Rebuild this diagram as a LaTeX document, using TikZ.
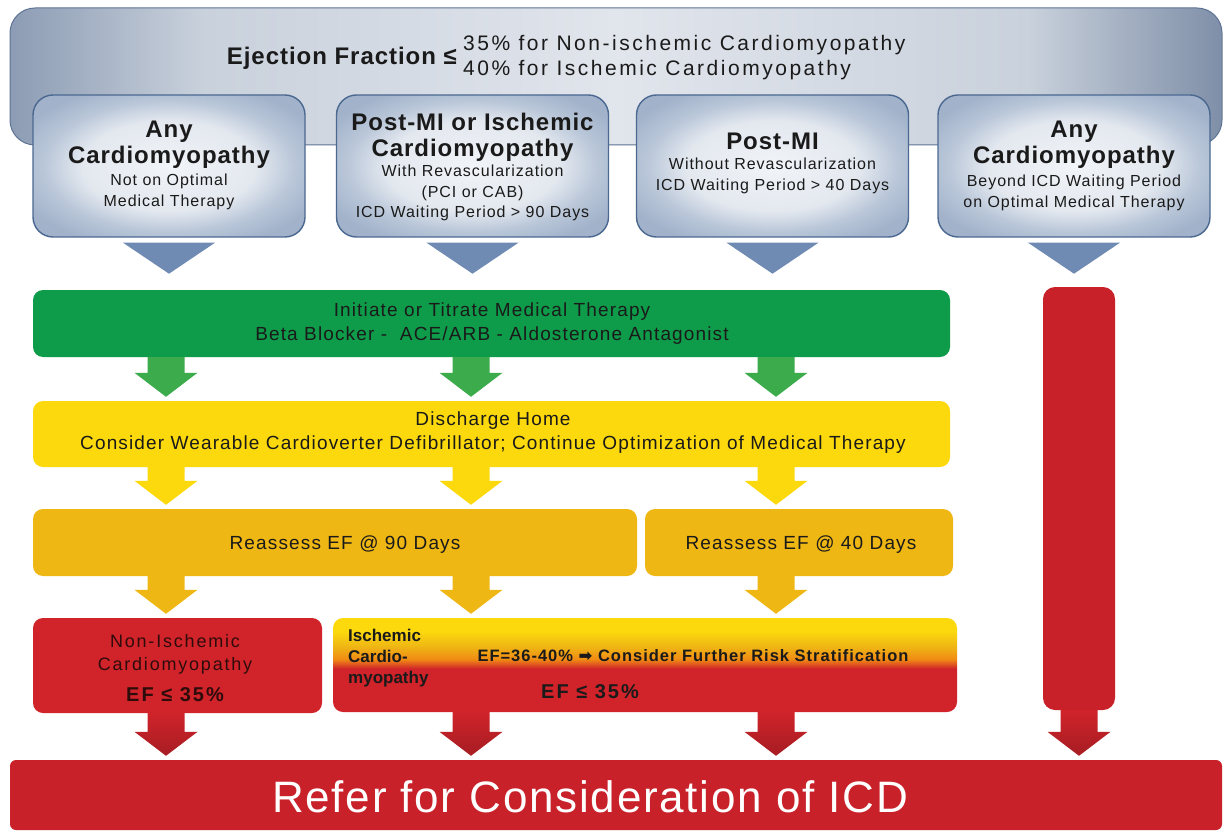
\documentclass[tikz,border=0pt]{standalone}
\usepackage{fontspec}
\setmainfont{Liberation Sans}
\newfontfamily\lsA[LetterSpace=4]{Liberation Sans}
\newfontfamily\lsB[LetterSpace=6]{Liberation Sans}
\newfontfamily\lsC[LetterSpace=10]{Liberation Sans}
\newfontfamily\lsD[LetterSpace=12]{Liberation Sans}
\newfontfamily\djv{DejaVu Sans}
\usetikzlibrary{calc}

\definecolor{bnL}{HTML}{8C9CB4}
\definecolor{bnM}{HTML}{C9D1DC}
\definecolor{bnC}{HTML}{E1E5EC}
\definecolor{bnR}{HTML}{7F8FA8}
\definecolor{bnB}{HTML}{5E7393}
\definecolor{bxA}{HTML}{F1F4F8}
\definecolor{bxB}{HTML}{E3E8EF}
\definecolor{bxC}{HTML}{BAC7D9}
\definecolor{bxD}{HTML}{A1B2CA}
\definecolor{bxE}{HTML}{4B6890}
\definecolor{triC}{HTML}{6F8BB3}
\definecolor{grn}{HTML}{0F9C4A}
\definecolor{grnA}{HTML}{3CAB4B}
\definecolor{ylw}{HTML}{FCD90D}
\definecolor{org}{HTML}{EFB714}
\definecolor{orgM}{HTML}{F08A14}
\definecolor{rd}{HTML}{D0232A}
\definecolor{rdD}{HTML}{A61D23}
\definecolor{rdB}{HTML}{C9212A}
\definecolor{txt}{HTML}{1A1A1A}
\definecolor{rtxt}{HTML}{2E0C0C}

\pgfdeclarehorizontalshading{bannershade}{100bp}{color(0bp)=(bnL); color(25bp)=(bnL); color(33bp)=(bnM); color(50bp)=(bnC); color(67bp)=(bnM); color(75bp)=(bnR); color(100bp)=(bnR)}
\pgfdeclareradialshading{boxshade}{\pgfpoint{0bp}{0bp}}{color(0bp)=(bxA); color(16bp)=(bxB); color(23bp)=(bxC); color(30bp)=(bxD); color(50bp)=(bxD)}
\pgfdeclareverticalshading{ischshade}{100bp}{color(0bp)=(rd); color(48bp)=(rd); color(53bp)=(orgM); color(60bp)=(org); color(68bp)=(ylw); color(100bp)=(ylw)}

\tikzset{
 banner/.style={rectangle, rounded corners=25, draw=bnB, line width=1, shade, shading=bannershade, inner sep=0},
 catbox/.style={rectangle, rounded corners=20, draw=bxE, line width=1.4, shade, shading=boxshade, minimum width=272, minimum height=142, inner sep=0},
 bar/.style={rectangle, rounded corners=10, inner sep=0},
 hd/.style={align=center, text=txt, font=\lsA\bfseries\fontsize{24}{26}\selectfont, inner sep=0},
 sub/.style={align=center, text=txt, font=\lsB\fontsize{16}{20.5}\selectfont, inner sep=0},
 bartxt/.style={align=center, text=txt, font=\lsB\fontsize{19}{24}\selectfont, inner sep=0},
 tri/.style={fill=triC},
 redarr/.style={top color=rd, bottom color=rdD},
}

\newcommand\blkarrow[4]{%
  \path[#4] ($(#2.south -| #1)+(-18.5,0)$) -- ($(#2.south -| #1)+(18.5,0)$)
   -- ($(#3.north -| #1)+(18.5,-28)$) -- ($(#3.north -| #1)+(31.5,-28)$)
   -- ($(#3.north -| #1)+(0,-4)$) -- ($(#3.north -| #1)+(-31.5,-28)$)
   -- ($(#3.north -| #1)+(-18.5,-28)$) -- cycle;}
\newcommand\tridown[1]{%
  \fill[tri] ($(#1.south)+(-46,5)$) -- ($(#1.south)+(46,5)$) -- ($(#1.south)+(0,36)$) -- cycle;}

\begin{document}
\begin{tikzpicture}[x=1pt,y=-1pt]
\useasboundingbox (0,0) rectangle (1225,834);
\fill[white] (0,0) rectangle (1225,834);

% banner
\node[banner, minimum width=1212, minimum height=137] (banner) at (616,76.5) {};
\node[anchor=east, font=\lsA\bfseries\fontsize{24}{26}\selectfont, text=txt, inner sep=0] (eft) at (457,58) {Ejection Fraction ≤};
\node[anchor=west, align=left, font=\lsD\fontsize{21}{25}\selectfont, text=txt, inner sep=0] (efv) at (463,58) {35\% for Non-ischemic Cardiomyopathy\\40\% for Ischemic Cardiomyopathy};

% category boxes
\node[catbox] (b1) at (169,166) {};
\node[catbox] (b2) at (472.5,166) {};
\node[catbox] (b3) at (772.5,166) {};
\node[catbox] (b4) at (1074,166) {};
\node[hd] (h1) at (169,145) {Any\\Cardiomyopathy};
\node[sub] (s1) at (169,192) {Not on Optimal\\Medical Therapy};
\node[hd] (h2) at (472.5,137) {Post-MI or Ischemic\\Cardiomyopathy};
\node[sub] (s2) at (472.5,193) {With Revascularization\\(PCI or CAB)\\ICD Waiting Period > 90 Days};
\node[hd] (h3) at (772.5,141) {Post-MI};
\node[sub] (s3) at (772.5,176) {Without Revascularization\\ICD Waiting Period > 40 Days};
\node[hd] (h4) at (1074,145) {Any\\Cardiomyopathy};
\node[sub] (s4) at (1074,193) {Beyond ICD Waiting Period\\on Optimal Medical Therapy};
\tridown{b1}
\tridown{b2}
\tridown{b3}
\tridown{b4}

% bars
\node[bar, fill=grn, minimum width=917, minimum height=67] (gbar) at (491.5,323.5) {};
\node[bartxt] (gtxt) at (492,323.5) {Initiate or Titrate Medical Therapy\\Beta Blocker -\ \ ACE/ARB - Aldosterone Antagonist};
\node[bar, fill=ylw, minimum width=917, minimum height=66] (ybar) at (491.5,434) {};
\node[bartxt] (ytxt) at (493,432.5) {Discharge Home\\Consider Wearable Cardioverter Defibrillator; Continue Optimization of Medical Therapy};
\node[bar, fill=org, minimum width=604, minimum height=67] (o1) at (335,542.5) {};
\node[bartxt] (o1t) at (345,545) {Reassess EF @ 90 Days};
\node[bar, fill=org, minimum width=308, minimum height=67] (o2) at (799,542.5) {};
\node[bartxt] (o2t) at (801,545) {Reassess EF @ 40 Days};

% red boxes
\node[bar, fill=rd, minimum width=289, minimum height=95] (nonisch) at (177.5,665.5) {};
\node[align=center, text=rtxt, font=\lsC\fontsize{18}{23}\selectfont, inner sep=0] (nit) at (175,654) {Non-Ischemic\\Cardiomyopathy};
\node[text=rtxt, font=\lsC\bfseries\fontsize{20}{24}\selectfont, inner sep=0] (nief) at (175,695) {EF ≤ 35\%};
\node[bar, shade, shading=ischshade, minimum width=624, minimum height=94] (isch) at (645,665) {};
\node[anchor=west, align=left, text=txt, font=\bfseries\fontsize{17}{21}\selectfont, inner sep=0] (isl) at (348,658) {Ischemic\\Cardio-\\myopathy};
\node[text=txt, font=\lsB\bfseries\fontsize{16.5}{20}\selectfont, inner sep=0] (isr) at (693,656) {EF=36-40\% {\djv ➡} Consider Further Risk Stratification};
\node[text=txt, font=\lsC\bfseries\fontsize{20}{24}\selectfont, inner sep=0] (isef) at (590,692) {EF ≤ 35\%};

% right bar and bottom bar
\node[bar, rounded corners=12, fill=rdB, minimum width=72, minimum height=423] (rbar) at (1079,498.5) {};
\node[bar, rounded corners=6, fill=rdB, minimum width=1212, minimum height=70] (refer) at (616,795) {};
\node[text=white, font=\lsA\fontsize{44}{48}\selectfont, inner sep=0] (refert) at (590,797) {Refer for Consideration of ICD};

% arrow columns
\coordinate (c1) at (166,0);
\coordinate (c2) at (471,0);
\coordinate (c3) at (776,0);
\coordinate (c4) at (1079,0);

\blkarrow{c1}{gbar}{ybar}{fill=grnA}
\blkarrow{c2}{gbar}{ybar}{fill=grnA}
\blkarrow{c3}{gbar}{ybar}{fill=grnA}
\blkarrow{c1}{ybar}{o1}{fill=ylw}
\blkarrow{c2}{ybar}{o1}{fill=ylw}
\blkarrow{c3}{ybar}{o2}{fill=ylw}
\blkarrow{c1}{o1}{nonisch}{fill=org}
\blkarrow{c2}{o1}{isch}{fill=org}
\blkarrow{c3}{o2}{isch}{fill=org}
\blkarrow{c1}{nonisch}{refer}{redarr}
\blkarrow{c2}{isch}{refer}{redarr}
\blkarrow{c3}{isch}{refer}{redarr}
\blkarrow{c4}{rbar}{refer}{redarr}
\end{tikzpicture}
\end{document}
